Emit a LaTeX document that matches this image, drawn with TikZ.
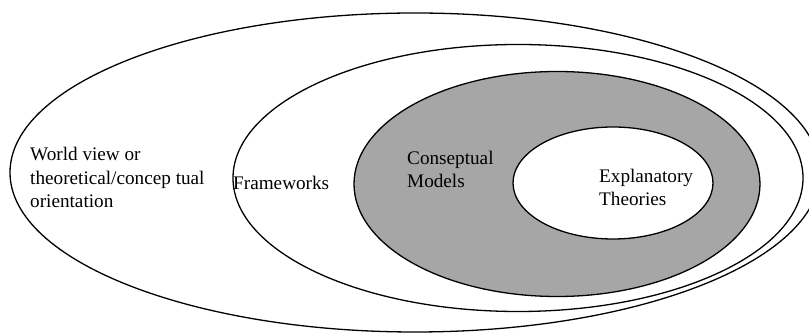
\documentclass[tikz,border=0pt]{standalone}
\usepackage{fontspec}
\setmainfont{Liberation Serif}
\definecolor{modelgray}{RGB}{166,166,166}
\begin{document}
\begin{tikzpicture}[x=1pt,y=1pt,
  ring/.style={draw=black,line width=1.3pt},
  lbl/.style={font=\fontsize{19.2}{23.5}\selectfont,inner sep=0pt,align=left,anchor=base west}]
\useasboundingbox (0,0) rectangle (809,334);
% outer: world view
\draw[ring,fill=white] (415,161.5) ellipse [x radius=405, y radius=159.5];
% frameworks
\draw[ring,fill=white] (518,156) ellipse [x radius=285, y radius=133.5];
% conceptual models
\draw[ring,fill=modelgray] (557,150) ellipse [x radius=203, y radius=112.5];
% explanatory theories
\draw[ring,fill=white] (613,151) ellipse [x radius=100, y radius=56];
\node[lbl] (wv) at (30,126) {World view or\\theoretical/concep tual\\orientation};
\node[lbl] (fw) at (233,144) {Frameworks};
\node[lbl] (cm) at (407,146) {Conseptual\\Models};
\node[lbl] (et) at (599,128) {Explanatory\\Theories};
\end{tikzpicture}
\end{document}
